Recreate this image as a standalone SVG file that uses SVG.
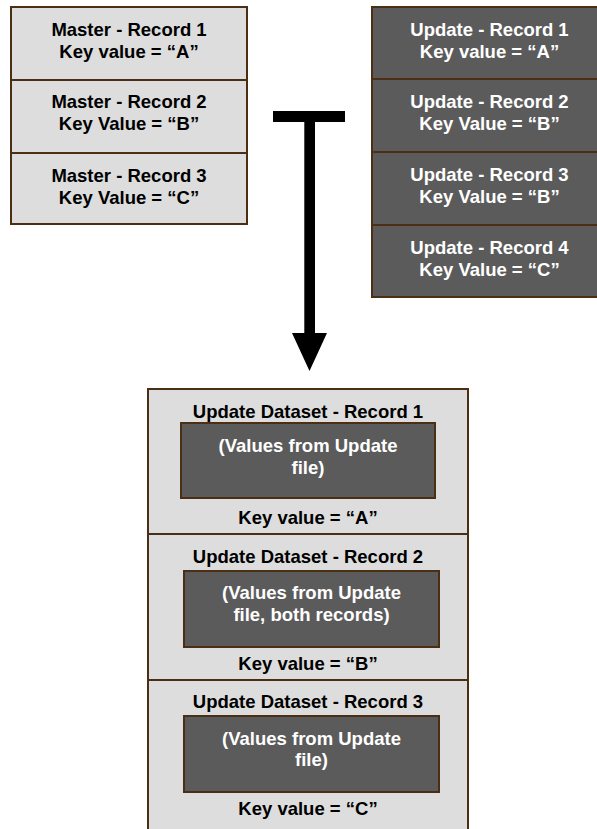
<svg xmlns="http://www.w3.org/2000/svg" width="597" height="829" viewBox="0 0 597 829">
<style>
.lt{fill:#dddddd;stroke:#4a2f14;stroke-width:2}
.dk{fill:#5b5b5b;stroke:#4a2f14;stroke-width:2}
text{font-family:"Liberation Sans",Arial,sans-serif;font-weight:bold;font-size:18.5px;text-anchor:middle}
.b{fill:#000}
.w{fill:#fff}
</style>
<rect width="597" height="829" fill="#fff"/>
<g id="master1"><rect class="lt" x="11" y="7" width="236" height="73"/><text class="b" x="129" y="36">Master - Record 1</text><text class="b" x="129" y="58">Key value = “A”</text></g>
<g id="master2"><rect class="lt" x="11" y="80" width="236" height="73"/><text class="b" x="129" y="108">Master - Record 2</text><text class="b" x="129" y="130">Key Value = “B”</text></g>
<g id="master3"><rect class="lt" x="11" y="153" width="236" height="71"/><text class="b" x="129" y="182">Master - Record 3</text><text class="b" x="129" y="204">Key Value = “C”</text></g>
<g id="update1"><rect class="dk" x="372" y="7" width="236" height="72"/><text class="w" x="489.5" y="36">Update - Record 1</text><text class="w" x="489.5" y="58">Key value = “A”</text></g>
<g id="update2"><rect class="dk" x="372" y="79" width="236" height="73"/><text class="w" x="489.5" y="108">Update - Record 2</text><text class="w" x="489.5" y="130">Key Value = “B”</text></g>
<g id="update3"><rect class="dk" x="372" y="152" width="236" height="73"/><text class="w" x="489.5" y="181">Update - Record 3</text><text class="w" x="489.5" y="203">Key Value = “B”</text></g>
<g id="update4"><rect class="dk" x="372" y="225" width="236" height="72"/><text class="w" x="489.5" y="254">Update - Record 4</text><text class="w" x="489.5" y="276">Key Value = “C”</text></g>
<g id="connectors"><path d="M273 111H345V122H315V333H327L309.5 371L292 333H304.3V122H273Z" fill="#000"/></g>
<g id="result1"><rect class="lt" x="148" y="389" width="320" height="145"/><text class="b" x="308" y="418">Update Dataset - Record 1</text><rect class="dk" x="181" y="423" width="254" height="75"/><text class="w" x="308" y="452">(Values from Update</text><text class="w" x="308" y="474">file)</text><text class="b" x="308" y="524">Key value = “A”</text></g>
<g id="result2"><rect class="lt" x="148" y="534" width="320" height="146"/><text class="b" x="308" y="563">Update Dataset - Record 2</text><rect class="dk" x="184" y="571" width="255" height="76"/><text class="w" x="311.5" y="599">(Values from Update</text><text class="w" x="311.5" y="621">file, both records)</text><text class="b" x="308" y="670">Key value = “B”</text></g>
<g id="result3"><rect class="lt" x="148" y="680" width="320" height="160"/><text class="b" x="308" y="708">Update Dataset - Record 3</text><rect class="dk" x="184" y="716" width="255" height="76"/><text class="w" x="311.5" y="745">(Values from Update</text><text class="w" x="311.5" y="766">file)</text><text class="b" x="308" y="815">Key value = “C”</text></g>
</svg>
